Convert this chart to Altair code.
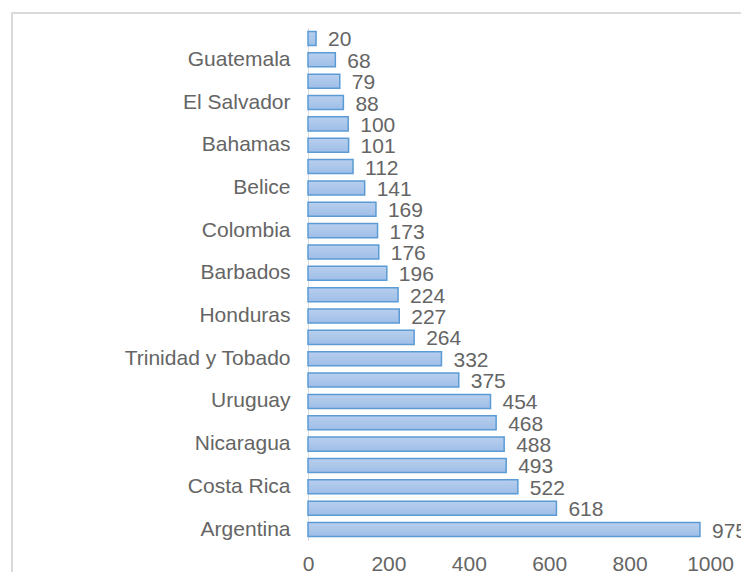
import altair as alt
import pandas as pd

# top-to-bottom order; entries starting with "_" are categories without a visible label
categories = ["_1", "Guatemala", "_2", "El Salvador", "_3", "Bahamas", "_4", "Belice",
              "_5", "Colombia", "_6", "Barbados", "_7", "Honduras", "_8", "Trinidad y Tobado",
              "_9", "Uruguay", "_10", "Nicaragua", "_11", "Costa Rica", "_12", "Argentina"]
values = [20, 68, 79, 88, 100, 101, 112, 141, 169, 173, 176, 196,
          224, 227, 264, 332, 375, 454, 468, 488, 493, 522, 618, 975]
x_ticks = [0, 200, 400, 600, 800, 1000]

df = pd.DataFrame({"cat": categories, "val": values})

FONT = "Liberation Sans"
GRAY = "#656565"

y_enc = alt.Y("cat:N", sort=categories, title=None,
              scale=alt.Scale(paddingInner=0.34, paddingOuter=0.17),
              axis=alt.Axis(labelExpr="indexof(datum.value, '_') == 0 ? '' : datum.value",
                            ticks=False, domainColor="#d9d9d9", domainWidth=1,
                            labelPadding=18, labelFont=FONT, labelFontSize=21,
                            labelColor=GRAY, labelLimit=300))
x_enc = alt.X("val:Q", title=None,
              scale=alt.Scale(domain=[0, 1000], nice=False),
              axis=alt.Axis(values=x_ticks, format="d", grid=False, domain=False, ticks=False,
                            labelPadding=13, labelFont=FONT, labelFontSize=21,
                            labelColor=GRAY, labelFlush=False))

bars = alt.Chart(df).mark_bar(
    color=alt.Gradient(gradient="linear", x1=0, x2=0, y1=0, y2=1,
                       stops=[alt.GradientStop(color="#b8cfee", offset=0),
                              alt.GradientStop(color="#9fbee7", offset=1)]),
    stroke="#5b9bd5", strokeWidth=1.5
).encode(y=y_enc, x=x_enc)

labels = alt.Chart(df).mark_text(
    align="left", baseline="middle", dx=12, dy=2, font=FONT, fontSize=21, color=GRAY
).encode(y=alt.Y("cat:N", sort=categories), x="val:Q", text="val:Q")

frame_left = alt.Chart(df).mark_rule(color="#d9d9d9", strokeWidth=1.2).encode(
    x=alt.value(-296), y=alt.value(-15), y2=alt.value(700))
frame_top = alt.Chart(df).mark_rule(color="#d9d9d9", strokeWidth=1.2).encode(
    x=alt.value(-296), x2=alt.value(800), y=alt.value(-15))

chart = alt.layer(frame_left, frame_top, bars, labels).properties(
    width=402, height=512.4,
    background="white",
    autosize=alt.AutoSizeParams(type="none"),
    padding={"left": 308, "top": 27.8, "right": 31, "bottom": 31.8},
).configure_view(stroke=None)

chart.save("out.html", embed_options={"renderer": "svg", "actions": False})
